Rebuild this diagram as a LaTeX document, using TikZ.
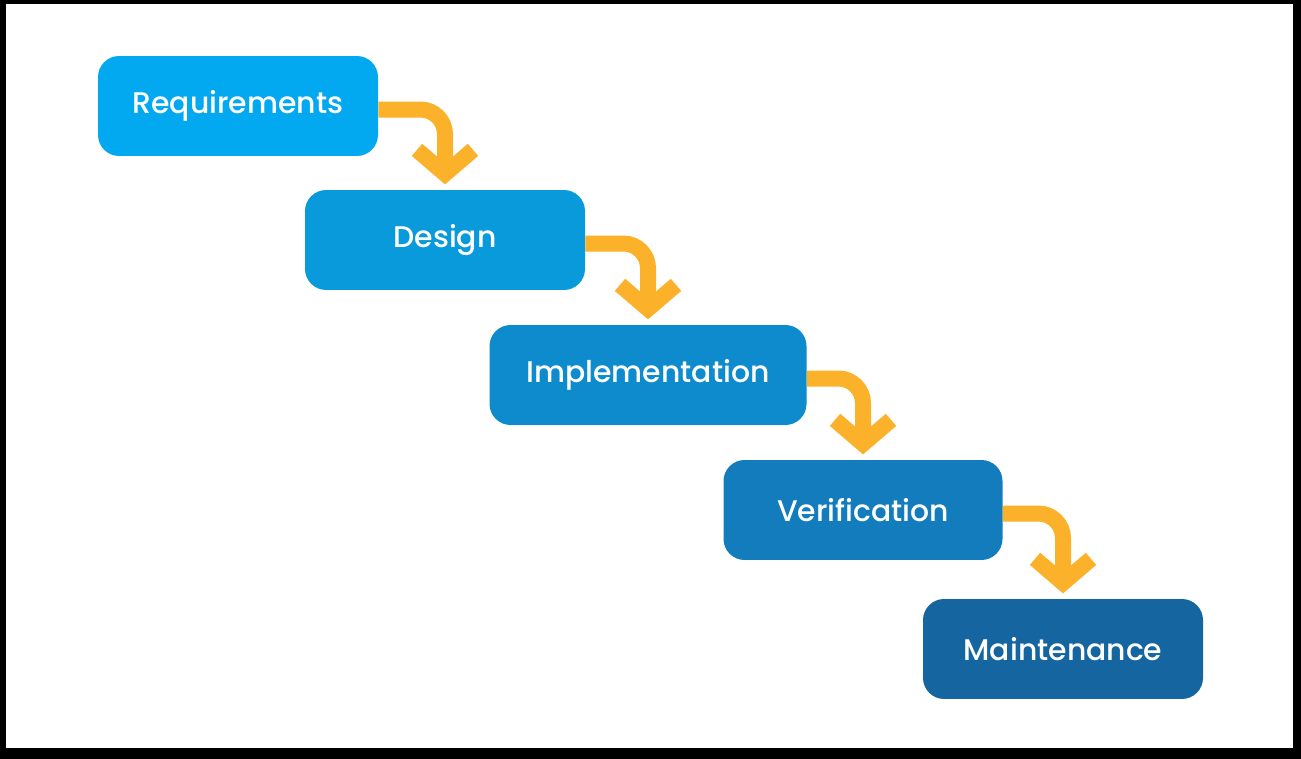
\documentclass[tikz,border=0pt]{standalone}
\usepackage{fontspec}
\setmainfont{Poppins}[UprightFont=* Medium]
\usepackage{tikz}
\usetikzlibrary{arrows.meta,positioning}
\usepackage{xcolor}
\definecolor{phase1}{RGB}{3,169,240}
\definecolor{phase2}{RGB}{9,154,219}
\definecolor{phase3}{RGB}{13,139,205}
\definecolor{phase4}{RGB}{18,124,189}
\definecolor{phase5}{RGB}{21,101,160}
\definecolor{arrowgold}{RGB}{251,178,42}

\begin{document}
\begin{tikzpicture}[x=0.02cm,y=-0.02cm,%
		   phase/.style={rounded corners=12pt,text=white,font=\fontsize{17}{20}\selectfont,minimum height=2cm,inner sep=0pt},
		   flow/.style={-{Straight Barb[length=0.48cm,width=1.12cm]},line width=0.32cm,arrowgold,rounded corners=14pt}]

	\fill[black] (0,0) rectangle (1301,759);
	\fill[white] (6,4) rectangle (1293,748);
	\useasboundingbox (0,0) rectangle (1301,759);

	\foreach \phase/\px/\py/\w [count=\n] in {%
		Requirements/238/106/280,%
		Design/445/240/280,%
		Implementation/648/375/317,%
		Verification/863/510/279,%
		Maintenance/1063/649/280%
	   } { \node[phase,fill=phase\n,minimum width=\w*0.02cm](p-\n) at (\px,\py) {\phase};
	       \ifnum\n>1\draw[flow] ([yshift=-2pt]p-\z.east) -| ([yshift=3pt]p-\n.north);\fi
	       \global\let\z=\n% previous box
	   }
\end{tikzpicture}
\end{document}
